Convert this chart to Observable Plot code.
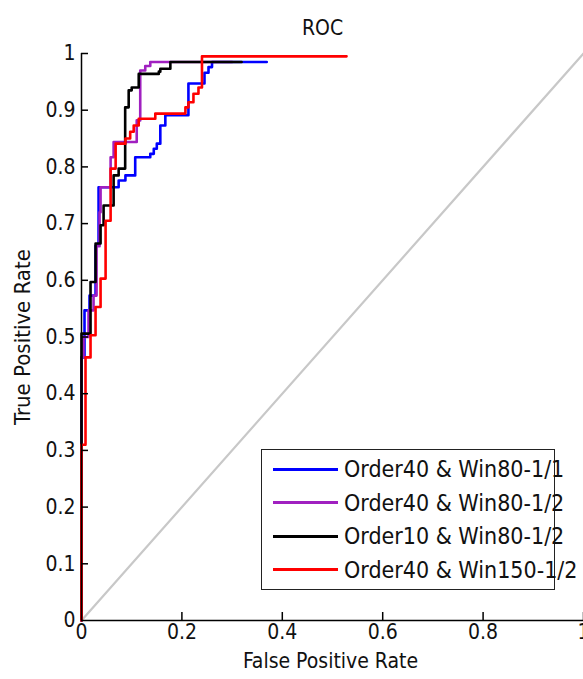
<!DOCTYPE html>
<html><head><meta charset="utf-8">
<script src="https://cdn.jsdelivr.net/npm/d3@7"></script>
<script src="https://cdn.jsdelivr.net/npm/@observablehq/plot@0.6"></script>
<style>
html,body{margin:0;padding:0;background:#fff;overflow:hidden;}
#wrap{position:relative;width:583px;height:679px;font-family:"Liberation Sans Narrow","DejaVu Sans Condensed","Liberation Sans",sans-serif;}
#legend{position:absolute;left:261px;top:449px;width:292px;height:139px;border:1.5px solid #222;background:#fff;}
.row{position:absolute;left:0;height:30px;display:flex;align-items:center;}
.sw{width:65px;height:3px;margin-left:11px;}
.lb{margin-left:6px;font-size:23px;color:#111;white-space:nowrap;}
</style></head><body><div id="wrap"></div>
<script>
const title = "ROC";
const xLabel = "False Positive Rate";
const yLabel = "True Positive Rate";
const xTicks = [0, 0.2, 0.4, 0.6, 0.8, 1];
const yTicks = [0, 0.1, 0.2, 0.3, 0.4, 0.5, 0.6, 0.7, 0.8, 0.9, 1];
const seriesNames = ["Order40 & Win80-1/1", "Order40 & Win80-1/2", "Order10 & Win80-1/2", "Order40 & Win150-1/2"];
const seriesColors = ["#0000ff", "#a020c0", "#000000", "#ff0000"];

// [false positive rate, true positive rate] corner points of each step ROC curve
const rocBlue = [[0,0],[0,0.464],[0.006,0.547],[0.016,0.573],[0.028,0.661],[0.034,0.764],[0.074,0.776],[0.0875,0.785],[0.107,0.817],[0.137,0.823],[0.144,0.832],[0.150,0.841],[0.157,0.873],[0.167,0.891],[0.213,0.947],[0.245,0.966],[0.253,0.976],[0.26,0.985],[0.369,0.985]];
const rocPurple = [[0,0],[0,0.464],[0.004,0.5],[0.014,0.547],[0.024,0.573],[0.03,0.66],[0.036,0.72],[0.038,0.764],[0.058,0.817],[0.064,0.844],[0.11,0.882],[0.117,0.97],[0.127,0.978],[0.137,0.985],[0.3,0.985]];
const rocBlack = [[0,0],[0,0.506],[0.018,0.597],[0.028,0.665],[0.038,0.697],[0.044,0.732],[0.064,0.785],[0.074,0.797],[0.087,0.905],[0.094,0.935],[0.1,0.94],[0.114,0.964],[0.154,0.968],[0.157,0.973],[0.177,0.985],[0.319,0.985]];
const rocRed = [[0,0],[0,0.31],[0.008,0.464],[0.018,0.503],[0.028,0.553],[0.038,0.603],[0.048,0.705],[0.058,0.797],[0.068,0.841],[0.0875,0.85],[0.097,0.862],[0.104,0.873],[0.114,0.885],[0.147,0.894],[0.207,0.905],[0.213,0.914],[0.223,0.929],[0.233,0.94],[0.24,0.995],[0.528,0.995]];
const chance = [[0,0],[1,1]];

const curves = [rocBlue, rocPurple, rocBlack, rocRed];
const FONT = '"Liberation Sans Narrow","DejaVu Sans Condensed","Liberation Sans",sans-serif';

const chart = Plot.plot({
  width: 583, height: 679,
  marginLeft: 81, marginRight: 0, marginTop: 53, marginBottom: 59,
  x: {domain: [0, 1]},
  y: {domain: [0, 1]},
  style: {fontFamily: FONT, fontSize: "21px", color: "#111", background: "#fff"},
  marks: [
    Plot.line(chance, {x: d => d[0], y: d => d[1], stroke: "#c8c8c8", strokeWidth: 2.2}),
    ...curves.map((c, i) => Plot.line(c, {x: d => d[0], y: d => d[1], curve: "step-after", stroke: seriesColors[i], strokeWidth: 2.6})),
    Plot.ruleY([0], {stroke: "#000", strokeWidth: 1.5}),
    Plot.ruleX([0], {stroke: "#000", strokeWidth: 1.5}),
    Plot.tickX(xTicks.slice(1), {x: d => d, insetTop: 559, stroke: "#000", strokeWidth: 1.5}),
    Plot.tickY(yTicks.slice(1), {y: d => d, insetRight: 495, stroke: "#000", strokeWidth: 1.5}),
    Plot.axisX({ticks: xTicks, tickSize: 0, tickPadding: 4, tickFormat: d => String(d), label: null, fontSize: 21, fill: "#111"}),
    Plot.axisY({ticks: yTicks, tickSize: 0, tickPadding: 6, tickFormat: d => String(d), label: null, fontSize: 21, fill: "#111"}),
    Plot.text([title], {text: d => d, frameAnchor: "top", dy: -33, dx: -10, fontSize: 21, fill: "#111"}),
    Plot.text([xLabel], {text: d => d, frameAnchor: "bottom", dy: 47, dx: -2, fontSize: 21, fill: "#111"}),
    Plot.text([yLabel], {text: d => d, frameAnchor: "left", textAnchor: "middle", dx: -59, rotate: -90, fontSize: 22, fill: "#111"})
  ]
});

const wrap = document.getElementById("wrap");
wrap.appendChild(chart);
const legend = document.createElement("div");
legend.id = "legend";
seriesNames.forEach((name, i) => {
  const row = document.createElement("div");
  row.className = "row";
  row.style.top = (19 + i * 33.5 - 15) + "px";
  const sw = document.createElement("div");
  sw.className = "sw";
  sw.style.background = seriesColors[i];
  const lb = document.createElement("span");
  lb.className = "lb";
  lb.textContent = name;
  row.appendChild(sw); row.appendChild(lb);
  legend.appendChild(row);
});
wrap.appendChild(legend);
</script></body></html>
